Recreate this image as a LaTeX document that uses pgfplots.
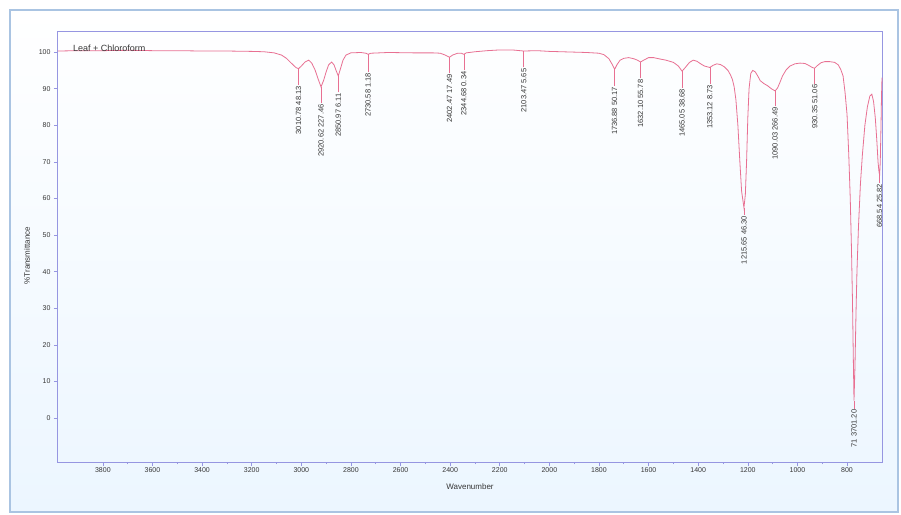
\documentclass[border=0pt]{standalone}
\usepackage{pgfplots}
\pgfplotsset{compat=1.18}
\usepackage{pgfplotstable}
\usepackage{fontspec}
\setmainfont{Liberation Sans}
\definecolor{spec}{RGB}{232,112,146}
\definecolor{axcol}{RGB}{150,150,225}
\definecolor{framecol}{RGB}{170,196,226}
\definecolor{txt}{RGB}{55,55,55}

\pgfplotstableread{
w T
3981 100.3
3900 100.4
3800 100.4
3700 100.5
3600 100.4
3500 100.4
3400 100.3
3300 100.3
3200 100.2
3150 100.1
3110 99.8
3080 99.2
3060 98.3
3045 97.3
3030 96.3
3020 95.7
3010.78 95.5
3000 96.2
2985 97.3
2970 97.8
2958 97.0
2945 95.2
2933 92.8
2920.62 90.5
2910 92.3
2900 94.6
2890 96.5
2878 97.3
2868 96.5
2860 95.0
2850.97 93.5
2842 95.5
2832 97.8
2820 99.2
2800 99.8
2760 99.9
2740 99.7
2730.58 99.4
2720 99.7
2650 99.9
2550 99.8
2470 99.8
2440 99.7
2420 99.2
2402.47 98.6
2390 99.2
2370 99.7
2355 99.7
2344.68 99.4
2335 99.8
2300 100.1
2250 100.4
2200 100.6
2150 100.6
2103.47 100.3
2050 100.4
2000 100.2
1950 100.1
1900 100.0
1850 99.9
1800 99.7
1780 99.3
1760 98.2
1748 96.8
1736.88 95.3
1728 96.5
1715 97.8
1700 98.3
1680 98.5
1660 98.2
1645 97.8
1632.10 97.3
1620 97.8
1600 98.5
1580 98.5
1560 98.2
1530 97.8
1500 97.2
1480 96.2
1465.05 94.8
1452 95.8
1435 97.2
1420 97.8
1405 97.5
1390 96.8
1375 96.2
1353.12 95.8
1340 96.4
1325 96.8
1310 96.6
1295 96.0
1280 95.0
1270 93.8
1262 92.5
1255 90.5
1248 87
1240 80
1232 70
1225 62
1215.65 57.5
1210 61
1205 70
1200 82
1195 90
1188 94.2
1180 95.0
1170 94.6
1160 93.5
1150 92.2
1135 91.4
1120 90.8
1105 90.0
1090.03 89.4
1080 90.2
1070 91.8
1060 93.5
1045 95.2
1030 96.2
1010 96.8
990 97.0
970 96.9
955 96.4
940 95.8
930.35 95.6
920 96.3
905 97.1
890 97.4
870 97.4
850 97.2
835 96.5
825 95.2
816 93.5
808 89
800 83
793 72
787 60
782 46
778 32
775 18
771.91 4.8
768 14
764 28
760 40
754 52
746 64
738 72
728 80
718 85
708 88
700 88.5
693 86.5
686 82
680 76
675 70
671 67.2
668.54 66.5
666 70
663 80
661 88
659 93
}\spectrum

\pgfplotstableread[col sep=comma]{
w,yb,e,lab
3010.78,91.0,4.5,3010.78 48.13
2920.62,86.0,4.5,2920.62 227.46
2850.97,89.0,4.5,2850.97 6.11
2730.58,94.6,4.8,2730.58 1.18
2402.47,94.2,4.4,2402.47 17.49
2344.68,95.0,4.4,2344.68 0.34
2103.47,95.8,4.5,2103.47 5.65
1736.88,90.8,4.5,1736.88 50.17
1632.10,92.8,4.5,1632.10 55.78
1465.05,90.3,4.5,1465.05 38.68
1353.12,91.3,4.5,1353.12 8.73
1215.65,55.5,2.0,1215.65 46.30
1090.03,85.2,4.2,1090.03 266.49
930.35,91.4,4.2,930.35 51.06
771.91,2.6,2.2,71 3701.20
668.54,64.3,2.2,668.54 25.82
}\peaks

\begin{document}
\begin{tikzpicture}[x=1pt,y=1pt]
\shade[top color=white, bottom color={rgb,255:red,236;green,246;blue,255}] (10,2) rectangle (898,504);
\draw[framecol, line width=2pt] (10,2) rectangle (898,504);
\path (0,0) rectangle (901,514);
\begin{axis}[
  at={(58pt,52pt)}, anchor=south west, scale only axis,
  width=824pt, height=430pt,
  x dir=reverse, xmin=659, xmax=3981, ymin=-12, ymax=105.5,
  axis line style={axcol, line width=1pt},
  xtick={800,1000,...,3800}, ytick={0,10,...,100},
  minor x tick num=1,
  xtick pos=bottom, ytick pos=left,
  tick align=outside, major tick length=4pt, minor tick length=2pt,
  tick style={axcol, line width=0.6pt},
  ticklabel style={font=\fontsize{7}{8}\selectfont, text=txt},
  xticklabel style={yshift=2pt},
  /pgf/number format/assume math mode=true,
  /pgf/number format/set thousands separator={},
  xlabel={Wavenumber}, ylabel={\%Transmittance},
  label style={font=\fontsize{8}{9}\selectfont, text=txt},
  xlabel style={at={(axis description cs:0.5,0)}, anchor=center, yshift=-25pt},
  ylabel style={at={(axis description cs:-0.0376,0.48)}, anchor=center},
  clip=false,
]
\addplot[spec, line width=0.8pt, mark=none] table[x=w, y=T] {\spectrum};
\addplot[draw=none, no markers, color=spec,
  error bars/.cd, y dir=plus, y explicit,
  error bar style={draw=spec, line width=0.6pt}, error mark=none]
  table[x=w, y=yb, y error=e] {\peaks};
\addplot[draw=none, no markers,
  point meta=explicit symbolic,
  nodes near coords={\pgfplotspointmeta},
  every node near coord/.style={rotate=90, anchor=east, inner sep=1pt,
     font=\fontsize{7.5}{8}\selectfont, text=txt}]
  table[x=w, y=yb, meta=lab] {\peaks};
\node[anchor=west, font=\fontsize{9}{10}\selectfont, text=txt] at (rel axis cs:0.014,0.963) {Leaf + Chloroform};
\end{axis}
\end{tikzpicture}
\end{document}
